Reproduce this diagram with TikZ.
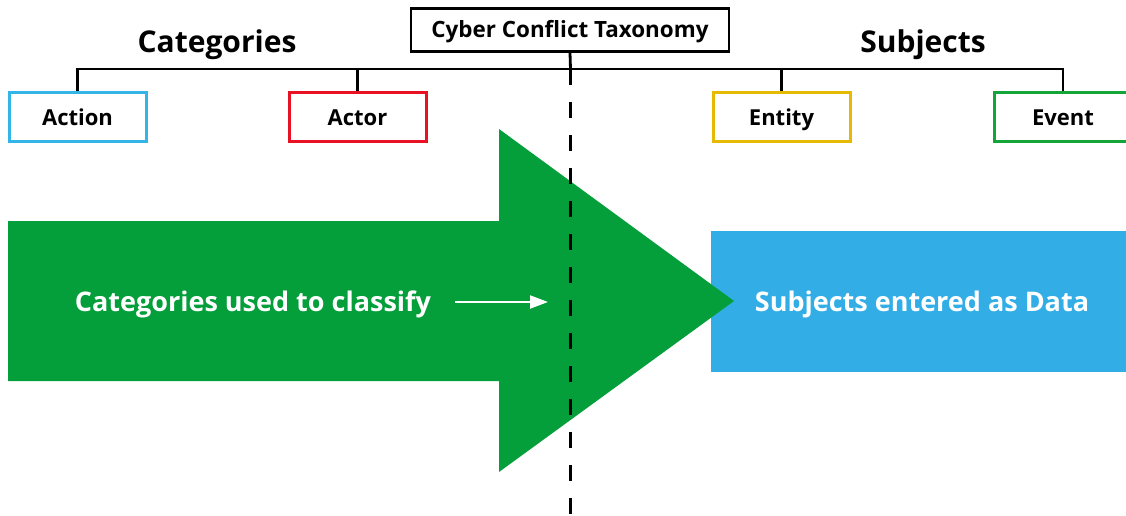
\documentclass[tikz,border=0pt]{standalone}
\usepackage{fontspec}
\setmainfont{Open Sans}
\usetikzlibrary{arrows.meta}

\definecolor{flowgreen}{RGB}{4,158,58}
\definecolor{datablue}{RGB}{50,173,230}
\definecolor{actioncyan}{RGB}{51,181,232}
\definecolor{actorred}{RGB}{232,18,36}
\definecolor{entitygold}{RGB}{230,185,5}
\definecolor{eventgreen}{RGB}{19,165,56}

\tikzset{
  treeline/.style={draw=black, line width=2.8pt},
  termbox/.style={draw=#1, line width=3pt, fill=white, minimum width=137pt,
    minimum height=48pt, inner sep=0pt, text height=19pt, text depth=3pt,
    font=\fontsize{22}{26}\selectfont\bfseries},
  heading/.style={anchor=base, inner sep=0pt, font=\fontsize{30}{34}\selectfont\bfseries},
  bigtext/.style={anchor=base, inner sep=0pt, text=white,
    font=\fontsize{27}{31}\selectfont\bfseries},
  divider/.style={draw=black, line width=2.8pt, dash pattern=on 16pt off 17pt},
}

\begin{document}
\begin{tikzpicture}[x=1pt, y=-1pt]
\useasboundingbox (0,0) rectangle (1126,516);
\clip (0,0) rectangle (1126,516);

% data panel on the right
\node[fill=datablue, minimum width=415pt, minimum height=141pt, inner sep=0pt]
  (data) at (918.5,301.5) {};

% big classification arrow
\fill[flowgreen] (8,221) -- (499,221) -- (499,129) -- (734,301)
  -- (499,472) -- (499,381) -- (8,381) -- cycle;

\node[bigtext] (classify) at (253,311) {Categories used to classify};
\node[bigtext] (entered) at (922,311) {Subjects entered as Data};

\coordinate (flowstart) at (455,302);
\coordinate (flowend) at (548,302);
\draw[white, line width=2pt, -{Triangle[length=18pt,width=13pt]}] (flowstart) -- (flowend);

% taxonomy tree
\node[draw=black, line width=2.8pt, fill=white, minimum width=318pt, minimum height=43pt,
  inner sep=0pt, text height=19pt, text depth=3pt,
  font=\fontsize{22.4}{26}\selectfont\bfseries] (tax) at (570,30)
  {Cyber Conflict Taxonomy};

\node[heading] (cats) at (217,53) {Categories};
\node[heading] (subs) at (923,53) {Subjects};

\node[termbox=actioncyan] (action) at (77.5,117) {Action};
\node[termbox=actorred] (actor) at (357.5,117) {Actor};
\node[termbox=entitygold] (entity) at (781.5,117) {Entity};
\node[termbox=eventgreen] (event) at (1063,117) {Event};

\coordinate (hub) at (570.5,69);
\draw[treeline] (action.north) |- (hub) -| (event.north);
\draw[treeline] (actor.north) -- (actor.north |- hub);
\draw[treeline] (entity.north) -- (entity.north |- hub);
\draw[treeline] (tax.south) -- (hub);

% dividing line between categories and subjects
\coordinate (divend) at (570.5,516);
\draw[divider] (hub) -- (divend);
\end{tikzpicture}
\end{document}
